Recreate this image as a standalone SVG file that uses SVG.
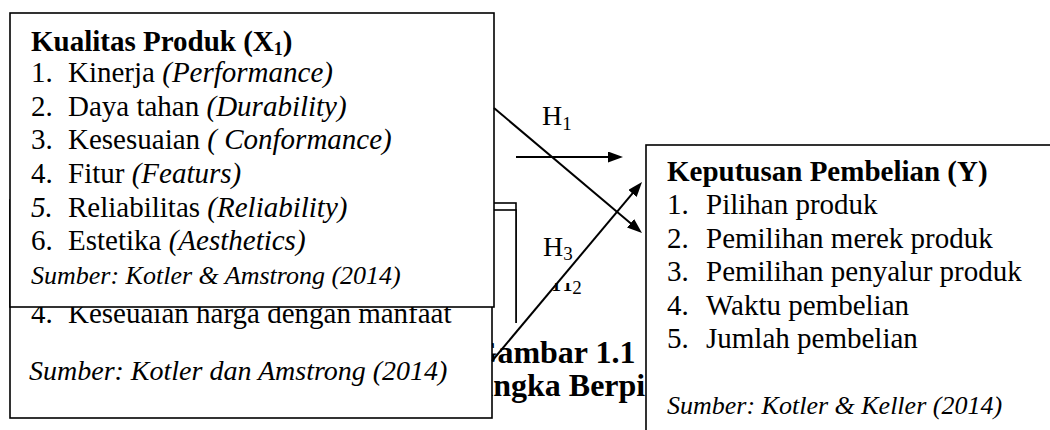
<svg xmlns="http://www.w3.org/2000/svg" width="1050" height="430" viewBox="0 0 1050 430">
<style>
.box{fill:#fff;stroke:#000;stroke-width:1.6}
.cover{fill:#fff;stroke:none}
.t{font-family:"Liberation Serif","Times New Roman",serif;font-size:29px;fill:#000}
.b{font-weight:bold}
.i{font-style:italic}
.src{font-family:"Liberation Serif","Times New Roman",serif;font-size:26px;font-style:italic;fill:#000}
.h{font-family:"Liberation Serif","Times New Roman",serif;font-size:28px;fill:#000}
.cap{font-family:"Liberation Serif","Times New Roman",serif;font-size:32px;font-weight:bold;fill:#000}
.conn{stroke:#000;stroke-width:2;fill:none}
</style>
<defs>
<marker id="arr" markerUnits="userSpaceOnUse" markerWidth="16" markerHeight="12" refX="7" refY="5.5" orient="auto">
<path d="M0,0 L15,5.5 L0,11 z" fill="#000"/>
</marker>
</defs>

<g id="node-box3">
<rect class="box" x="380" y="203" width="136" height="150"/>
<rect class="box" x="380" y="210" width="136" height="143"/>
</g>

<g id="caption">
<rect class="cover" x="420" y="323" width="226" height="107"/>
<text class="cap" x="554" y="363" text-anchor="middle">Gambar 1.1</text>
<text class="cap" x="555" y="396" text-anchor="middle">Kerangka Berpikir</text>
</g>

<g id="node-harga">
<rect class="box" x="10" y="200" width="482" height="218"/>
<text class="t" x="31" y="323">4.</text>
<text class="t" x="68" y="323">Keseuaian harga dengan manfaat</text>
<text class="t i" x="29" y="380" style="font-size:28px">Sumber: Kotler dan Amstrong (2014)</text>
</g>

<g id="node-kualitas">
<rect class="box" x="10" y="13" width="484" height="294"/>
<text class="t b" x="31" y="51">Kualitas Produk (X<tspan font-size="18" dy="4">1</tspan><tspan dy="-4">)</tspan></text>
<text class="t" x="31" y="82">1.</text>
<text class="t" x="68" y="82">Kinerja <tspan class="i">(Performance)</tspan></text>
<text class="t" x="31" y="115.5">2.</text>
<text class="t" x="68" y="115.5">Daya tahan <tspan class="i">(Durability)</tspan></text>
<text class="t" x="31" y="149">3.</text>
<text class="t" x="68" y="149">Kesesuaian <tspan class="i">( Conformance)</tspan></text>
<text class="t" x="31" y="183">4.</text>
<text class="t" x="68" y="183">Fitur <tspan class="i">(Featurs)</tspan></text>
<text class="t i" x="31" y="216.5">5.</text>
<text class="t" x="68" y="216.5">Reliabilitas <tspan class="i">(Reliability)</tspan></text>
<text class="t" x="31" y="250">6.</text>
<text class="t" x="68" y="250">Estetika <tspan class="i">(Aesthetics)</tspan></text>
<text class="src" x="31" y="284">Sumber: Kotler &amp; Amstrong (2014)</text>
</g>

<g id="labels">
<text class="h" x="552" y="291">H<tspan font-size="19" dy="3">2</tspan></text>
<rect class="cover" x="526" y="224" width="46" height="59"/>
<text class="h" x="543" y="256">H<tspan font-size="19" dy="4">3</tspan></text>
<text class="h" x="542" y="125">H<tspan font-size="19" dy="5">1</tspan></text>
</g>

<g id="node-keputusan">
<rect class="box" x="646" y="145" width="420" height="300"/>
<text class="t b" x="667" y="181">Keputusan Pembelian (Y)</text>
<text class="t" x="667" y="214">1.</text>
<text class="t" x="706" y="214">Pilihan produk</text>
<text class="t" x="667" y="247.5">2.</text>
<text class="t" x="706" y="247.5">Pemilihan merek produk</text>
<text class="t" x="667" y="281">3.</text>
<text class="t" x="706" y="281">Pemilihan penyalur produk</text>
<text class="t" x="667" y="314.5">4.</text>
<text class="t" x="706" y="314.5">Waktu pembelian</text>
<text class="t" x="667" y="348">5.</text>
<text class="t" x="706" y="348">Jumlah pembelian</text>
<text class="src" x="667" y="414">Sumber: Kotler &amp; Keller (2014)</text>
</g>

<g id="connectors">
<line class="conn" x1="494" y1="108" x2="635.9" y2="227.8" marker-end="url(#arr)"/>
<line class="conn" x1="516" y1="157" x2="615" y2="157" marker-end="url(#arr)"/>
<line class="conn" x1="492" y1="361" x2="636.9" y2="188.1" marker-end="url(#arr)"/>
</g>
</svg>
